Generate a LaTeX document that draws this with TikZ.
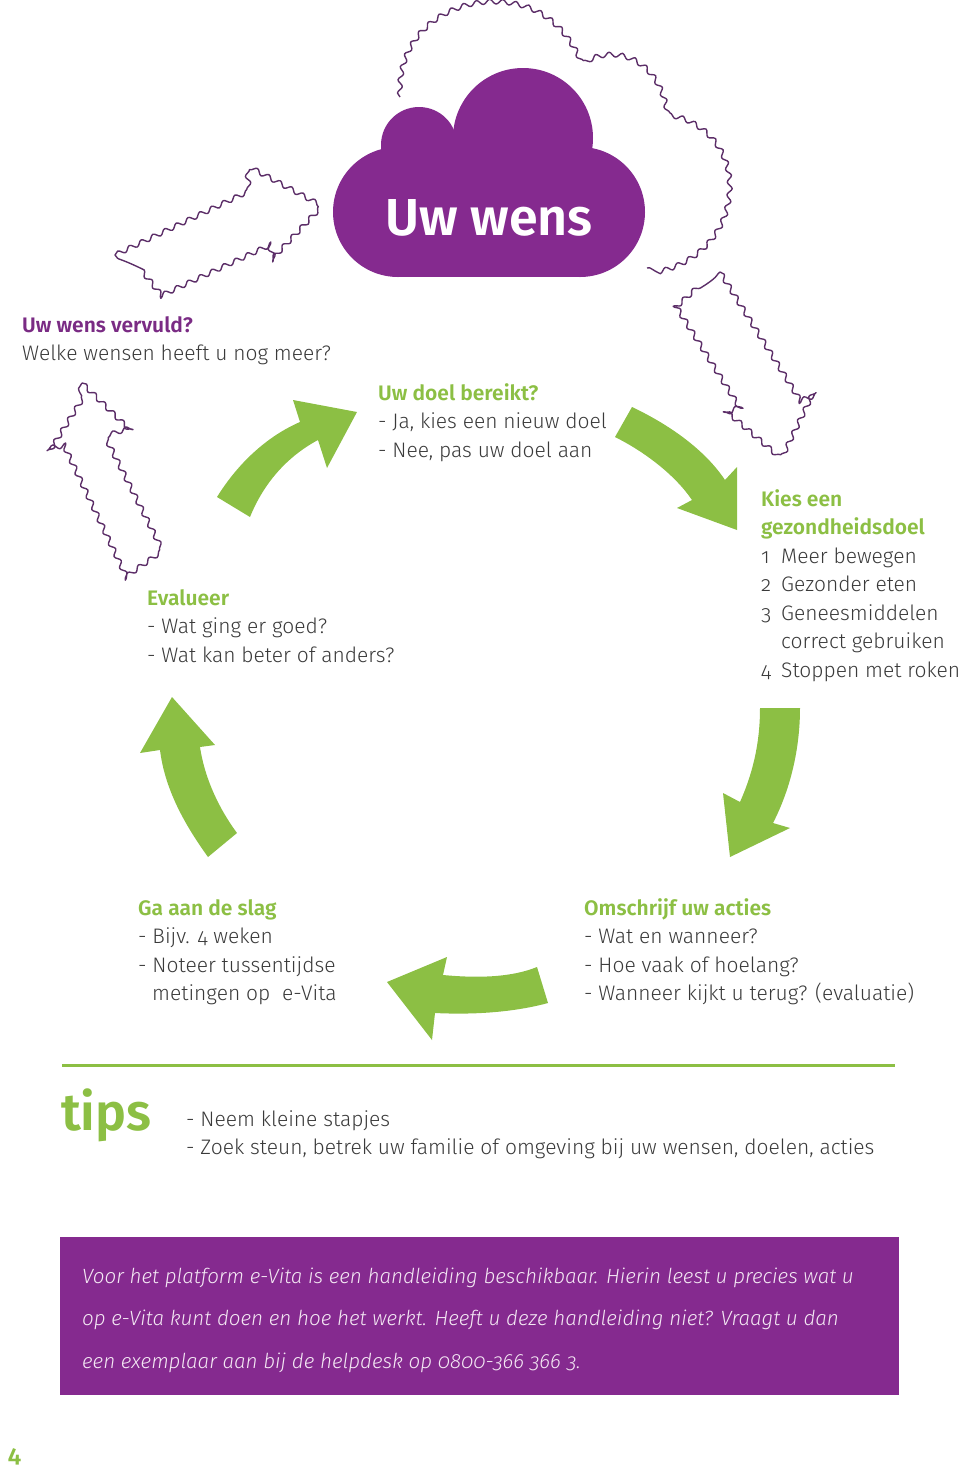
\documentclass[tikz,border=0pt]{standalone}
\usepackage{fontspec}
\setmainfont{Fira Sans Light}[BoldFont={Fira Sans SemiBold}, ItalicFont={Fira Sans Light Italic}, Numbers=OldStyle]
\usetikzlibrary{decorations.pathmorphing}
\definecolor{wensPaars}{HTML}{852A8F}
\definecolor{kopPaars}{HTML}{7A2B84}
\definecolor{wensGroen}{HTML}{8CBF44}
\definecolor{lijnPaars}{HTML}{5C2E68}
\definecolor{tekstGrijs}{HTML}{3A3A3A}
\definecolor{boxTekst}{HTML}{F4E8F4}
\tikzset{
	golf/.style={draw=lijnPaars, line width=1.4pt, line join=round, decorate, decoration={snake, segment length=13pt, amplitude=2.4pt}},
	pijl/.style={fill=wensGroen, draw=none},
	wolk/.style={fill=wensPaars, draw=none},
	blok/.style={anchor=base west, inner sep=0pt, align=left, text=tekstGrijs, font=\fontsize{21}{28.5}\selectfont},
}
\def\kop#1{\textcolor{wensGroen}{\bfseries #1}}

\begin{document}
\begin{tikzpicture}[x=1pt, y=-1pt]
			%%%%% START %%%%%
			\useasboundingbox (0,0) rectangle (960,1468);
			
			% wavy cloud behind
			\draw[golf] (400,97) .. controls (398,35) and (450,2) .. (500,5) .. controls (540,7) and (565,30) .. (580,62)
				.. controls (605,42) and (655,50) .. (665,110) .. controls (700,115) and (728,145) .. (726,185)
				.. controls (724,230) and (690,262) .. (647,268);
			
			% purple cloud
			\fill[wolk] (398,212) circle (65pt);
			\fill[wolk] (580,212) circle (65pt);
			\fill[wolk] (419,145) circle (38pt);
			\fill[wolk] (523,138) circle (70pt);
			\fill[wolk] (398,147) rectangle (580,277);
			\node[text=white, font=\fontsize{52}{60}\selectfont\bfseries, anchor=base] (uwwens) at (489,235) {Uw wens};
			
			% wavy arrows
			\draw[golf] (115,255) -- (247,192) -- (245,172) -- (310,207) -- (262,258) -- (255,238) -- (143,290) -- cycle;
			\draw[golf] (82,383) -- (130,430) -- (108,437) -- (165,550) -- (127,577) -- (63,442) -- (43,445) -- cycle;
			\draw[golf] (720,272) -- (798,397) -- (818,390) -- (785,458) -- (735,415) -- (753,407) -- (687,302) -- cycle;
			
			% green arrows
			\fill[pijl] (217,497) .. controls (240,460) and (270,435) .. (300,422) -- (293,400) -- (357,412) -- (327,468) -- (318,440) .. controls (290,455) and (265,480) .. (250,517) -- cycle;
			\fill[pijl] (632,407) .. controls (670,425) and (705,450) .. (725,480) -- (737,467) -- (737,530) -- (677,508) -- (692,500) .. controls (675,475) and (645,452) .. (615,437) -- cycle;
			\fill[pijl] (760,708) .. controls (760,745) and (752,775) .. (740,802) -- (723,793) -- (730,857) -- (790,828) -- (773,823) .. controls (790,790) and (800,750) .. (800,708) -- cycle;
			\fill[pijl] (537,967) .. controls (510,978) and (475,978) .. (443,975) -- (447,957) -- (387,982) -- (432,1040) -- (435,1013) .. controls (475,1015) and (515,1012) .. (548,1003) -- cycle;
			\fill[pijl] (172,697) -- (215,745) -- (200,747) .. controls (205,780) and (220,810) .. (237,833) -- (208,857) .. controls (185,825) and (165,790) .. (160,750) -- (140,753) -- cycle;
			
			% texts (base = last line)
			\node[blok] (vervuld) at (22,360.5) {\textcolor{kopPaars}{\bfseries Uw wens vervuld?}\\Welke wensen heeft u nog meer?};
			\node[blok] (bereikt) at (378,457) {\kop{Uw doel bereikt?}\\- Ja, kies een nieuw doel\\- Nee, pas uw doel aan};
			\node[blok] (kies) at (761,677) {\kop{Kies een}\\\kop{gezondheidsdoel}\\\makebox[20pt][l]{1}Meer bewegen\\\makebox[20pt][l]{2}Gezonder eten\\\makebox[20pt][l]{3}Geneesmiddelen\\\hspace*{20pt}correct gebruiken\\\makebox[20pt][l]{4}Stoppen met roken};
			\node[blok] (evalueer) at (147,662) {\kop{Evalueer}\\- Wat ging er goed?\\- Wat kan beter of anders?};
			\node[blok] (slag) at (138,1000.5) {\kop{Ga aan de slag}\\- Bijv. 4 weken\\- Noteer tussentijdse\\\hspace*{14pt}metingen op\ \ e-Vita};
			\node[blok] (acties) at (584,1000.5) {\kop{Omschrijf uw acties}\\- Wat en wanneer?\\- Hoe vaak of hoelang?\\- Wanneer kijkt u terug? (evaluatie)};
			
			% tips
			\draw[wensGroen, line width=3pt] (62,1065) -- (895,1065);
			\node[anchor=base west, inner sep=0pt, text=wensGroen, font=\fontsize{52}{60}\selectfont\bfseries] (tipskop) at (61,1130) {tips};
			\node[blok] (tipslijst) at (186,1154.5) {- Neem kleine stapjes\\- Zoek steun, betrek uw familie of omgeving bij uw wensen, doelen, acties};
			
			% purple box
			\fill[wensPaars] (60,1237) rectangle (899,1395);
			\node[blok, text=boxTekst, font=\fontsize{20.6}{42.5}\selectfont\itshape] (handleiding) at (82,1368) {Voor het platform e-Vita is een handleiding beschikbaar. Hierin leest u precies wat u\\op e-Vita kunt doen en hoe het werkt. Heeft u deze handleiding niet? Vraagt u dan\\een exemplaar aan bij de helpdesk op 0800-366 366 3.};
			
			\node[anchor=base west, inner sep=0pt, text=wensGroen, font=\fontsize{24}{28}\selectfont\bfseries] (paginanr) at (8,1462) {4};
			%%%%% END %%%%%
\end{tikzpicture}
\end{document}
